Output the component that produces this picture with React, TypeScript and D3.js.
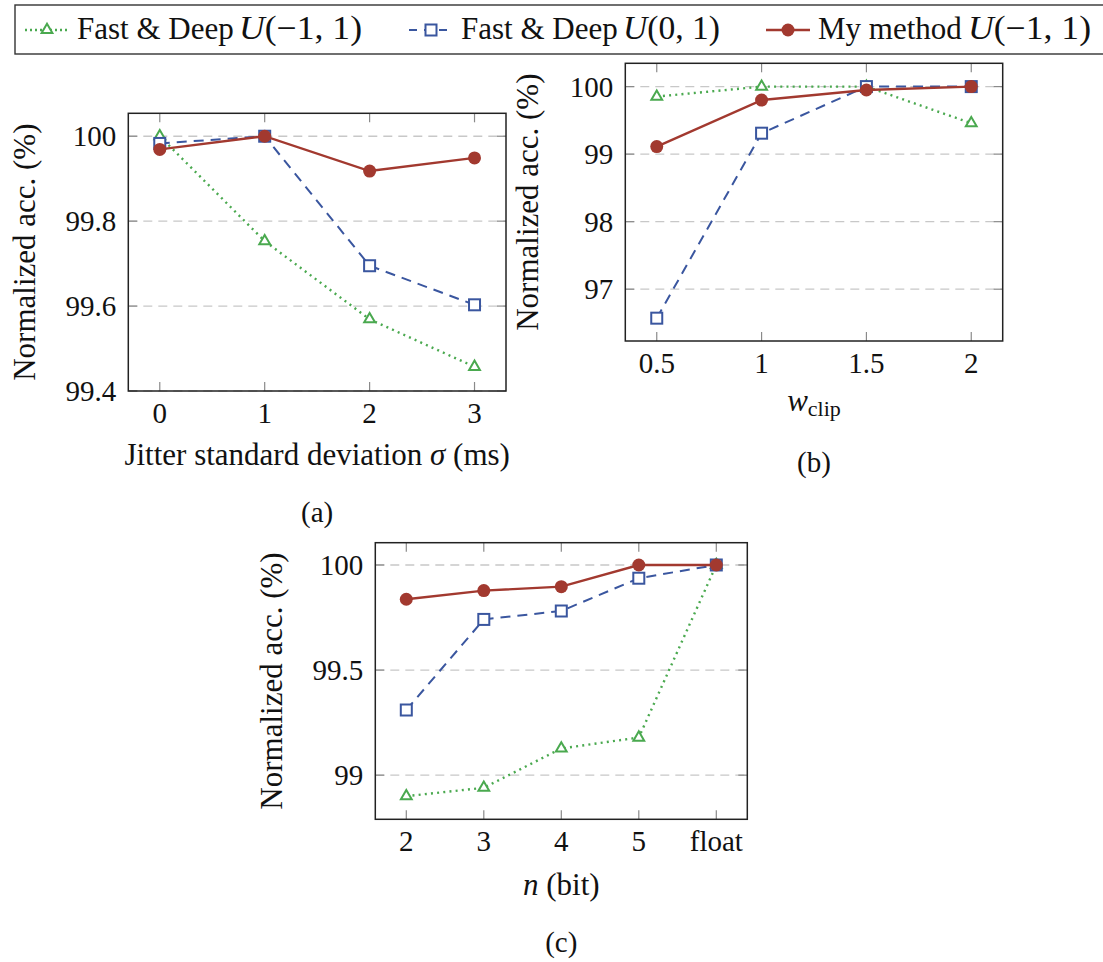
import React from "react";
import * as d3 from "d3";

// ---------- data ----------
const seriesNames = ["Fast & Deep", "Fast & Deep", "My method"];
const seriesMath = ["U(−1, 1)", "U(0, 1)", "U(−1, 1)"];

const jitterX = [0, 1, 2, 3];
const jitterFD11 = [100.0, 99.753, 99.569, 99.457];
const jitterFD01 = [99.983, 100.0, 99.695, 99.603];
const jitterMine = [99.969, 100.0, 99.918, 99.949];
const jitterYTicks = [99.4, 99.6, 99.8, 100];

const wclipX = [0.5, 1, 1.5, 2];
const wclipXLabels = ["0.5", "1", "1.5", "2"];
const wclipFD11 = [99.852, 100.0, 100.0, 99.458];
const wclipFD01 = [96.571, 99.31, 100.0, 100.0];
const wclipMine = [99.112, 99.8, 99.95, 100.0];
const wclipYTicks = [97, 98, 99, 100];

const bitCats = ["2", "3", "4", "5", "float"];
const bitFD11 = [98.9, 98.94, 99.127, 99.179, 100.0];
const bitFD01 = [99.31, 99.741, 99.781, 99.937, 100.0];
const bitMine = [99.837, 99.878, 99.897, 100.0, 100.0];
const bitYTicks = [99, 99.5, 100];

// ---------- style ----------
const GREEN = "#4aa94f";
const BLUE = "#3a569f";
const RED = "#a2392f";
const FONT = "Liberation Serif, Tinos, Times New Roman, DejaVu Serif, Noto Serif, serif";
const styles = [
  { color: GREEN, dash: "2,4.2", width: 2.4, marker: "tri" },
  { color: BLUE, dash: "10,7", width: 2, marker: "sq" },
  { color: RED, dash: "", width: 2.4, marker: "dot" },
];

function T(props: any) {
  const { style, ...rest } = props;
  return <text {...rest} style={{ fontFamily: FONT, ...(style || {}) }} fill="#111" />;
}

function Marker({ kind, x, y, color }: any) {
  if (kind === "tri") {
    const r = 6.2;
    const p = `${x},${y - r} ${x + r * 0.87},${y + r * 0.5} ${x - r * 0.87},${y + r * 0.5}`;
    return <polygon points={p} fill="white" stroke={color} strokeWidth={2} />;
  }
  if (kind === "sq") {
    const s = 11;
    return <rect x={x - s / 2} y={y - s / 2} width={s} height={s} fill="white" stroke={color} strokeWidth={2} />;
  }
  return <circle cx={x} cy={y} r={6.5} fill={color} />;
}

function Panel({ box, x, y, xTicks, xLabels, yTicks, yFmt, series, xLabel, yLabelX, caption, captionY }: any) {
  const { l, r, t, b } = box;
  const tickLen = 9;
  return (
    <g>
      {yTicks.map((v: number, i: number) => (
        <line key={"g" + i} x1={l} x2={r} y1={y(v)} y2={y(v)} stroke="#c8c8c8" strokeWidth={1.3} strokeDasharray="9,6" />
      ))}
      {xTicks.map((v: any, i: number) => (
        <g key={"xt" + i} stroke="#8a8a8a" strokeWidth={1.2}>
          <line x1={x(v)} x2={x(v)} y1={b} y2={b - tickLen} />
          <line x1={x(v)} x2={x(v)} y1={t} y2={t + tickLen} />
        </g>
      ))}
      {yTicks.map((v: number, i: number) => (
        <g key={"yt" + i} stroke="#8a8a8a" strokeWidth={1.2}>
          <line x1={l} x2={l + tickLen} y1={y(v)} y2={y(v)} />
          <line x1={r} x2={r - tickLen} y1={y(v)} y2={y(v)} />
        </g>
      ))}
      {series.map((s: any, si: number) => {
        const st = styles[si];
        const line = d3
          .line<any>()
          .x((d) => x(d[0]))
          .y((d) => y(d[1]));
        const pts = s.xs.map((xv: any, i: number) => [xv, s.ys[i]]);
        return (
          <g key={"s" + si}>
            <path d={line(pts) || ""} fill="none" stroke={st.color} strokeWidth={st.width} strokeDasharray={st.dash} />
            {pts.map((p: any, i: number) => (
              <Marker key={i} kind={st.marker} x={x(p[0])} y={y(p[1])} color={st.color} />
            ))}
          </g>
        );
      })}
      <rect x={l} y={t} width={r - l} height={b - t} fill="none" stroke="#222" strokeWidth={1.5} />
      {xTicks.map((v: any, i: number) => (
        <T key={"xl" + i} x={x(v)} y={b + 32} textAnchor="middle" fontSize={29}>
          {xLabels[i]}
        </T>
      ))}
      {yTicks.map((v: number, i: number) => (
        <T key={"yl" + i} x={l - 12} y={y(v)} dy="0.35em" textAnchor="end" fontSize={29}>
          {yFmt(v)}
        </T>
      ))}
      <T transform={`translate(${yLabelX},${(t + b) / 2}) rotate(-90)`} textAnchor="middle" fontSize={31}>
        Normalized acc. (%)
      </T>
      {xLabel}
      <T x={(l + r) / 2} y={captionY} textAnchor="middle" fontSize={29}>
        {caption}
      </T>
    </g>
  );
}

function LegendItem({ idx, x0, textX, mathX, mathEnd }: any) {
  const st = styles[idx];
  const cy = 30;
  return (
    <g>
      <line x1={x0} x2={x0 + 44} y1={cy} y2={cy} stroke={st.color} strokeWidth={st.width} strokeDasharray={idx === 0 ? "2,3" : idx === 1 ? "8,7" : ""} />
      <Marker kind={st.marker} x={x0 + 22} y={cy} color={st.color} />
      <T x={textX} y={39} fontSize={31}>
        {seriesNames[idx]}
      </T>
      <T x={mathX} y={39} fontSize={33} textLength={mathEnd - mathX} lengthAdjust="spacingAndGlyphs">
        <tspan fontStyle="italic">U</tspan>
        {seriesMath[idx].slice(1)}
      </T>
    </g>
  );
}

export default function App() {
  const boxA = { l: 128.3, r: 506, t: 113.3, b: 391 };
  const xA = d3.scaleLinear().domain([-0.3, 3.3]).range([boxA.l, boxA.r]);
  const yA = d3.scaleLinear().domain([99.4, 100.054]).range([boxA.b, boxA.t]);
  const boxB = { l: 625.3, r: 1002.7, t: 63.3, b: 341 };
  const xB = d3.scaleLinear().domain([0.35, 2.15]).range([boxB.l, boxB.r]);
  const yB = d3.scaleLinear().domain([96.233, 100.345]).range([boxB.b, boxB.t]);
  const boxC = { l: 375.3, r: 747.3, t: 542.7, b: 819.3 };
  const xC = d3.scalePoint<string>().domain(bitCats).range([boxC.l, boxC.r]).padding(0.4);
  const yC = d3.scaleLinear().domain([98.79, 100.106]).range([boxC.b, boxC.t]);

  const fmt = (v: number) => String(v);

  return (
    <svg width={1103} height={962} style={{ position: "absolute", left: 0, top: 0, background: "white" }}>
      <rect x={0} y={0} width={1103} height={962} fill="white" />
      <rect x={15} y={5} width={1110} height={49} fill="white" stroke="#333" strokeWidth={1.4} />
      <LegendItem idx={0} x0={25} textX={77} mathX={239} mathEnd={362} />
      <LegendItem idx={1} x0={409} textX={461} mathX={623} mathEnd={720} />
      <LegendItem idx={2} x0={766} textX={818} mathX={968} mathEnd={1091} />

      <Panel
        box={boxA}
        x={xA}
        y={yA}
        xTicks={jitterX}
        xLabels={jitterX.map(String)}
        yTicks={jitterYTicks}
        yFmt={fmt}
        series={[
          { xs: jitterX, ys: jitterFD11 },
          { xs: jitterX, ys: jitterFD01 },
          { xs: jitterX, ys: jitterMine },
        ]}
        yLabelX={35}
        caption="(a)"
        captionY={522}
        xLabel={
          <T x={(boxA.l + boxA.r) / 2} y={465} textAnchor="middle" fontSize={31}>
            Jitter standard deviation <tspan fontStyle="italic">σ</tspan> (ms)
          </T>
        }
      />
      <Panel
        box={boxB}
        x={xB}
        y={yB}
        xTicks={wclipX}
        xLabels={wclipXLabels}
        yTicks={wclipYTicks}
        yFmt={fmt}
        series={[
          { xs: wclipX, ys: wclipFD11 },
          { xs: wclipX, ys: wclipFD01 },
          { xs: wclipX, ys: wclipMine },
        ]}
        yLabelX={538}
        caption="(b)"
        captionY={472}
        xLabel={
          <T x={(boxB.l + boxB.r) / 2} y={411} textAnchor="middle">
            <tspan fontSize={31} fontStyle="italic">w</tspan>
            <tspan fontSize={22} dy={5}>clip</tspan>
          </T>
        }
      />
      <Panel
        box={boxC}
        x={xC}
        y={yC}
        xTicks={bitCats}
        xLabels={bitCats}
        yTicks={bitYTicks}
        yFmt={fmt}
        series={[
          { xs: bitCats, ys: bitFD11 },
          { xs: bitCats, ys: bitFD01 },
          { xs: bitCats, ys: bitMine },
        ]}
        yLabelX={282}
        caption="(c)"
        captionY={952}
        xLabel={
          <T x={(boxC.l + boxC.r) / 2} y={895} textAnchor="middle" fontSize={31}>
            <tspan fontStyle="italic">n</tspan> (bit)
          </T>
        }
      />
    </svg>
  );
}
